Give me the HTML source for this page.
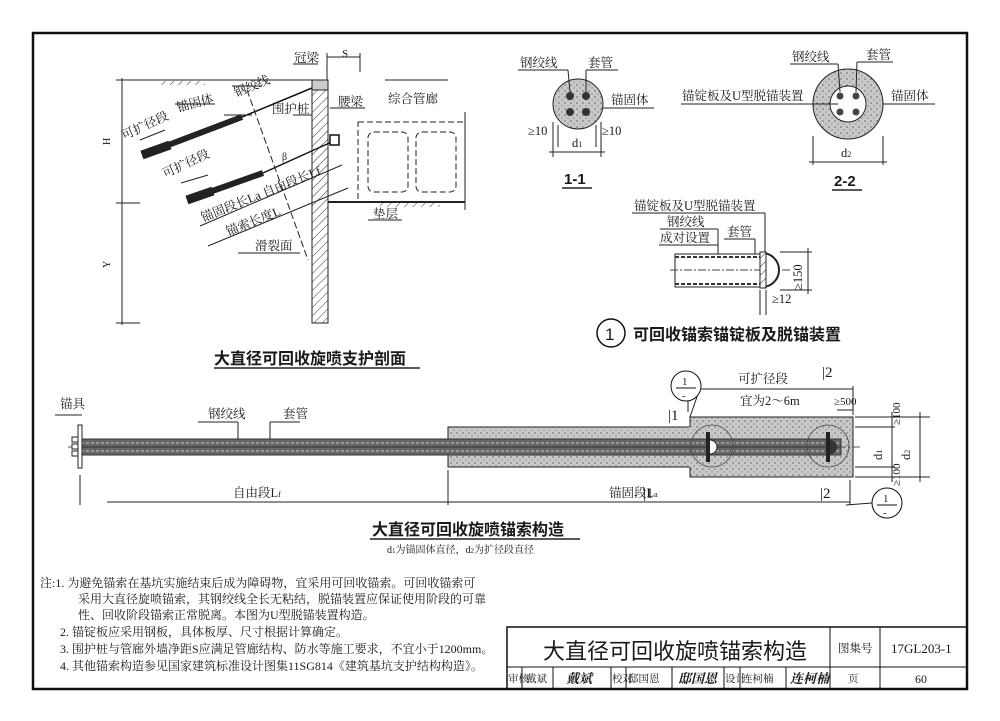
<!DOCTYPE html>
<html><head><meta charset="utf-8">
<style>
html,body{margin:0;padding:0;background:#fff;}
svg{display:block;}
text{font-family:"Liberation Serif","Noto Serif CJK SC","Noto Sans CJK SC",serif;fill:#1a1a1a;}
.b{font-family:"Liberation Sans","Noto Sans CJK SC",sans-serif;font-weight:bold;}
</style></head><body>
<svg width="1000" height="721" viewBox="0 0 1000 721" xmlns="http://www.w3.org/2000/svg">
<defs>
<pattern id="st" width="6" height="6" patternUnits="userSpaceOnUse">
<rect width="6" height="6" fill="#c8c8c8"/><circle cx="1" cy="1" r="0.8" fill="#666"/><circle cx="4" cy="4" r="0.7" fill="#888"/>
</pattern>
<pattern id="ht" width="6" height="6" patternUnits="userSpaceOnUse" patternTransform="rotate(45)">
<rect width="6" height="6" fill="#fff"/><line x1="0" y1="0" x2="0" y2="6" stroke="#333" stroke-width="1"/>
</pattern>
</defs>
<rect width="1000" height="721" fill="#fff"/>
<rect x="33" y="33" width="934" height="656" fill="none" stroke="#111" stroke-width="2.5"/>

<!-- ===== Section ===== -->
<g stroke="#222" fill="none" stroke-width="1">
<line x1="127" y1="80" x2="312" y2="80"/>
<line x1="122" y1="78" x2="122" y2="325"/>
<line x1="116" y1="80" x2="128" y2="80"/><line x1="116" y1="203" x2="140" y2="203"/><line x1="116" y1="323" x2="140" y2="323"/>
<line x1="328" y1="202" x2="465" y2="202" stroke-width="2"/>
<line x1="327" y1="57" x2="360" y2="57"/>
<line x1="327" y1="53" x2="327" y2="80"/><line x1="360" y1="53" x2="360" y2="72"/>
</g>
<rect x="312" y="80" width="16" height="243" fill="url(#ht)" stroke="#222"/>
<rect x="312" y="80" width="16" height="10" fill="#ccc" stroke="#222"/>
<rect x="160" y="81" width="45" height="4" fill="url(#ht)"/>
<rect x="380" y="203" width="60" height="4" fill="url(#ht)"/>
<!-- anchors -->
<line x1="312" y1="88" x2="242" y2="117" stroke="#111" stroke-width="1.5"/>
<line x1="242" y1="117" x2="142" y2="155" stroke="#222" stroke-width="6"/>
<line x1="170" y1="145" x2="142" y2="155" stroke="#222" stroke-width="9"/>
<line x1="336" y1="140" x2="263" y2="173" stroke="#111" stroke-width="1.5"/>
<line x1="263" y1="173" x2="187" y2="200" stroke="#222" stroke-width="6"/>
<line x1="213" y1="191" x2="187" y2="200" stroke="#222" stroke-width="9"/>
<rect x="330" y="135" width="9" height="10" fill="#fff" stroke="#111" stroke-width="1.5"/>
<line x1="247" y1="90" x2="308" y2="260" stroke="#222" stroke-dasharray="7,3" fill="none"/>
<!-- gallery -->
<g stroke="#222" fill="none" stroke-dasharray="6,3">
<rect x="358" y="122" width="107" height="80"/>
<rect x="368" y="132" width="40" height="60" rx="6"/>
<rect x="416" y="132" width="40" height="60" rx="6"/>
</g>
<line x1="465" y1="112" x2="465" y2="210" stroke="#222"/>
<g stroke="#222" fill="none">
<line x1="200" y1="226" x2="342" y2="165"/><line x1="208" y1="246" x2="348" y2="188"/>
<line x1="140" y1="140" x2="165" y2="130"/><line x1="181" y1="183" x2="208" y2="175"/>
<line x1="232" y1="86" x2="262" y2="86"/><line x1="175" y1="104" x2="215" y2="104"/>
<line x1="224" y1="115" x2="252" y2="115"/><line x1="293" y1="115" x2="312" y2="115"/>
<line x1="330" y1="108" x2="365" y2="108"/><line x1="385" y1="80" x2="448" y2="80"/>
<line x1="238" y1="253" x2="300" y2="253"/><line x1="368" y1="220" x2="402" y2="220"/>
<line x1="293" y1="64" x2="318" y2="64"/>
</g>
<g font-size="12.5">
<text x="294" y="62">冠梁</text>
<text x="342" y="57" font-size="11">S</text>
<text x="236" y="97" transform="rotate(-22 236 97)">钢绞线</text>
<text x="178" y="112" transform="rotate(-15 178 112)">锚固体</text>
<text x="124" y="140" transform="rotate(-25 124 140)">可扩径段</text>
<text x="272" y="113">围护桩</text>
<text x="338" y="106">腰梁</text>
<text x="388" y="103">综合管廊</text>
<text x="165" y="178" transform="rotate(-25 165 178)">可扩径段</text>
<text x="203" y="222" transform="rotate(-22 203 222)">锚固段长La 自由段长Lf</text>
<text x="228" y="236" transform="rotate(-22 228 236)">锚索长度L</text>
<text x="255" y="250">滑裂面</text>
<text x="373" y="218">垫层</text>
<text x="282" y="160" font-size="10">β</text>
<text x="110" y="145" font-size="10" transform="rotate(-90 110 145)">H</text>
<text x="110" y="268" font-size="10" transform="rotate(-90 110 268)">Y</text>
</g>
<text x="214" y="364" font-size="16" class="b">大直径可回收旋喷支护剖面</text>
<line x1="214" y1="368" x2="420" y2="368" stroke="#222" stroke-width="1.5"/>

<!-- ===== 1-1 ===== -->
<circle cx="578" cy="104" r="25" fill="url(#st)" stroke="#222"/>
<g fill="#333"><circle cx="570" cy="96" r="4"/><circle cx="586" cy="96" r="4"/><circle cx="570" cy="112" r="4"/><circle cx="586" cy="112" r="4"/></g>
<g stroke="#222" fill="none">
<line x1="518" y1="70" x2="568" y2="70"/><line x1="568" y1="70" x2="570" y2="92"/>
<line x1="586" y1="70" x2="618" y2="70"/><line x1="586" y1="70" x2="586" y2="92"/>
<line x1="603" y1="108" x2="654" y2="108"/>
<line x1="553" y1="122" x2="553" y2="157"/><line x1="601" y1="122" x2="601" y2="157"/>
<line x1="558" y1="125" x2="558" y2="147"/><line x1="596" y1="125" x2="596" y2="147"/>
<line x1="549" y1="152" x2="605" y2="152"/>
</g>
<g font-size="12.5">
<text x="520" y="67">钢绞线</text><text x="588" y="67">套管</text><text x="611" y="104">锚固体</text>
<text x="528" y="135">≥10</text><text x="602" y="135">≥10</text><text x="572" y="147">d<tspan font-size="8">1</tspan></text>
</g>
<text x="564" y="184" font-size="15" class="b">1-1</text>
<line x1="562" y1="188" x2="592" y2="188" stroke="#222" stroke-width="1.5"/>

<!-- ===== 2-2 ===== -->
<circle cx="848" cy="104" r="35" fill="url(#st)" stroke="#222"/>
<circle cx="848" cy="104" r="18" fill="#fff" stroke="#222"/>
<g fill="#444"><circle cx="840" cy="96" r="3.5"/><circle cx="856" cy="96" r="3.5"/><circle cx="840" cy="112" r="3.5"/><circle cx="856" cy="112" r="3.5"/></g>
<g stroke="#222" fill="none">
<line x1="790" y1="64" x2="838" y2="64"/><line x1="838" y1="64" x2="840" y2="92"/>
<line x1="857" y1="62" x2="893" y2="62"/><line x1="857" y1="62" x2="856" y2="92"/>
<line x1="681" y1="104" x2="838" y2="104"/><line x1="883" y1="104" x2="935" y2="104"/>
<line x1="813" y1="136" x2="813" y2="165"/><line x1="883" y1="136" x2="883" y2="165"/>
<line x1="809" y1="162" x2="887" y2="162"/>
</g>
<g font-size="12.5">
<text x="792" y="61">钢绞线</text><text x="866" y="59">套管</text>
<text x="682" y="100">锚锭板及U型脱锚装置</text><text x="891" y="100">锚固体</text>
<text x="841" y="157">d<tspan font-size="8">2</tspan></text>
</g>
<text x="834" y="186" font-size="15" class="b">2-2</text>
<line x1="832" y1="190" x2="862" y2="190" stroke="#222" stroke-width="1.5"/>

<!-- ===== detail 1 ===== -->
<rect x="675" y="254" width="87" height="33" fill="#fff" stroke="#222"/>
<line x1="675" y1="257" x2="762" y2="257" stroke="#333" stroke-width="2" stroke-dasharray="4,2"/>
<line x1="675" y1="284" x2="762" y2="284" stroke="#333" stroke-width="2" stroke-dasharray="4,2"/>
<line x1="670" y1="270" x2="790" y2="270" stroke="#444" stroke-dasharray="8,2,2,2"/>
<path d="M762 253 A17 17 0 0 1 762 287" fill="#fff" stroke="#222" stroke-width="2"/>
<rect x="760" y="252" width="6" height="36" fill="url(#ht)" stroke="#222"/>
<g stroke="#222" fill="none">
<line x1="632" y1="213" x2="765" y2="213"/><line x1="765" y1="213" x2="765" y2="252"/>
<line x1="660" y1="229" x2="718" y2="229"/><line x1="659" y1="245" x2="718" y2="245"/><line x1="718" y1="229" x2="718" y2="254"/>
<line x1="724" y1="239" x2="755" y2="239"/><line x1="755" y1="239" x2="755" y2="254"/>
<line x1="780" y1="252" x2="812" y2="252"/><line x1="780" y1="290" x2="812" y2="290"/><line x1="808" y1="248" x2="808" y2="294"/>
<line x1="760" y1="290" x2="760" y2="315"/><line x1="766" y1="290" x2="766" y2="315"/>
</g>
<g font-size="12.5">
<text x="634" y="210">锚锭板及U型脱锚装置</text>
<text x="667" y="226">钢绞线</text><text x="660" y="242">成对设置</text><text x="727" y="236">套管</text>
<text x="772" y="303">≥12</text>
<text x="802" y="290" transform="rotate(-90 802 290)">≥150</text>
</g>
<circle cx="611" cy="333" r="14" fill="none" stroke="#111" stroke-width="1.5"/>
<text x="605" y="340" font-size="17" class="b" style="font-weight:normal">1</text>
<text x="633" y="340" font-size="16" class="b">可回收锚索锚锭板及脱锚装置</text>

<!-- ===== Anchor construction ===== -->
<rect x="448" y="427" width="242" height="40" fill="url(#st)" stroke="#222"/>
<path d="M690 417 L853 417 L853 477 L690 477 Z" fill="url(#st)" stroke="#222"/>
<line x1="690" y1="427" x2="690" y2="467" stroke="#c8c8c8" stroke-width="2"/>
<line x1="68" y1="447" x2="860" y2="447" stroke="#555" stroke-dasharray="10,2,2,2"/>
<rect x="81" y="439" width="760" height="16" fill="#666" stroke="#333"/>
<line x1="81" y1="443" x2="841" y2="443" stroke="#ccc" stroke-dasharray="3,2"/>
<line x1="81" y1="451" x2="841" y2="451" stroke="#ccc" stroke-dasharray="3,2"/>
<line x1="81" y1="447" x2="841" y2="447" stroke="#333"/>
<rect x="78" y="425" width="4" height="43" fill="#fff" stroke="#222"/>
<g fill="#fff" stroke="#222"><rect x="72" y="437" width="6" height="5"/><rect x="72" y="444" width="6" height="5"/><rect x="72" y="451" width="6" height="5"/></g>
<rect x="706" y="432" width="4" height="30" fill="#222"/><path d="M710 440 A7 7 0 0 1 710 454" fill="#fff" stroke="#222"/>
<rect x="826" y="432" width="4" height="30" fill="#222"/><path d="M830 440 A7 7 0 0 1 830 454" fill="#333"/>
<circle cx="712" cy="446" r="21" fill="none" stroke="#444" stroke-width="0.8"/>
<circle cx="828" cy="446" r="21" fill="none" stroke="#444" stroke-width="0.8"/>
<g stroke="#222" fill="none">
<line x1="80" y1="475" x2="80" y2="505"/><line x1="448" y1="470" x2="448" y2="505"/>
<line x1="107" y1="502" x2="850" y2="502"/><line x1="850" y1="480" x2="850" y2="505"/>
<line x1="688" y1="388" x2="688" y2="412"/><line x1="690" y1="389" x2="853" y2="389"/><line x1="853" y1="386" x2="853" y2="415"/>
<line x1="837" y1="410" x2="853" y2="410"/>
<line x1="55" y1="415" x2="82" y2="415"/><line x1="198" y1="422" x2="238" y2="422"/><line x1="270" y1="422" x2="300" y2="422"/>
<line x1="238" y1="422" x2="238" y2="439"/><line x1="270" y1="422" x2="270" y2="439"/>
<line x1="700" y1="388" x2="690" y2="417"/><line x1="846" y1="505" x2="872" y2="503"/>
<line x1="855" y1="417" x2="930" y2="417"/><line x1="855" y1="427" x2="895" y2="427"/>
<line x1="855" y1="467" x2="895" y2="467"/><line x1="855" y1="477" x2="930" y2="477"/>
<line x1="892" y1="412" x2="892" y2="482"/><line x1="920" y1="412" x2="920" y2="482"/>
</g>
<circle cx="686" cy="386" r="15" fill="#fff" stroke="#111"/>
<line x1="676" y1="388" x2="696" y2="388" stroke="#111"/>
<text x="682" y="385" font-size="11">1</text><text x="682" y="399" font-size="11">-</text>
<circle cx="887" cy="503" r="15" fill="#fff" stroke="#111"/>
<line x1="877" y1="505" x2="897" y2="505" stroke="#111"/>
<text x="883" y="502" font-size="11">1</text><text x="883" y="516" font-size="11">-</text>
<g font-size="12.5">
<text x="60" y="408">锚具</text><text x="208" y="418">钢绞线</text><text x="283" y="418">套管</text>
<text x="738" y="383">可扩径段</text><text x="740" y="405">宜为2～6m</text>
<text x="834" y="405" font-size="11">≥500</text>
<text x="233" y="497">自由段L<tspan font-size="8">f</tspan></text>
<text x="609" y="497">锚固段L<tspan font-size="8">a</tspan></text>
<text x="882" y="460" transform="rotate(-90 882 460)">d<tspan font-size="8">1</tspan></text>
<text x="910" y="460" transform="rotate(-90 910 460)">d<tspan font-size="8">2</tspan></text>
<text x="900" y="425" font-size="11" transform="rotate(-90 900 425)">≥100</text>
<text x="900" y="486" font-size="11" transform="rotate(-90 900 486)">≥100</text>
</g>
<g font-size="15" class="b" style="font-weight:normal">
<text x="822" y="377">|2</text><text x="668" y="420">|1</text><text x="643" y="498">|1</text><text x="820" y="498">|2</text>
</g>
<text x="372" y="535" font-size="16" class="b">大直径可回收旋喷锚索构造</text>
<line x1="370" y1="539" x2="580" y2="539" stroke="#222" stroke-width="1.5"/>
<text x="387" y="553" font-size="10">d<tspan font-size="7">1</tspan>为锚固体直径，d<tspan font-size="7">2</tspan>为扩径段直径</text>

<!-- ===== Notes ===== -->
<g font-size="12">
<text x="40" y="587">注:1. 为避免锚索在基坑实施结束后成为障碍物，宜采用可回收锚索。可回收锚索可</text>
<text x="78" y="603">采用大直径旋喷锚索，其钢绞线全长无粘结，脱锚装置应保证使用阶段的可靠</text>
<text x="78" y="619">性、回收阶段锚索正常脱离。本图为U型脱锚装置构造。</text>
<text x="60" y="636">2. 锚锭板应采用钢板，具体板厚、尺寸根据计算确定。</text>
<text x="60" y="653">3. 围护桩与管廊外墙净距S应满足管廊结构、防水等施工要求，不宜小于1200mm。</text>
<text x="60" y="670">4. 其他锚索构造参见国家建筑标准设计图集11SG814《建筑基坑支护结构构造》。</text>
</g>

<!-- ===== Title block ===== -->
<g stroke="#111" fill="none">
<rect x="507" y="627" width="460" height="62" stroke-width="1.5"/>
<line x1="507" y1="667" x2="967" y2="667"/>
<line x1="830" y1="627" x2="830" y2="689"/><line x1="880" y1="627" x2="880" y2="689"/>
<line x1="522" y1="667" x2="522" y2="689"/><line x1="553" y1="667" x2="553" y2="689"/>
<line x1="611" y1="667" x2="611" y2="689"/><line x1="626" y1="667" x2="626" y2="689"/>
<line x1="672" y1="667" x2="672" y2="689"/><line x1="724" y1="667" x2="724" y2="689"/>
<line x1="740" y1="667" x2="740" y2="689"/><line x1="786" y1="667" x2="786" y2="689"/>
</g>
<text x="543" y="659" font-size="22" class="b" style="font-weight:normal">大直径可回收旋喷锚索构造</text>
<text x="838" y="652" font-size="11.5">图集号</text>
<text x="891" y="653" font-size="13">17GL203-1</text>
<g font-size="10.5">
<text x="508" y="682">审核</text><text x="526" y="682">戴斌</text>
<text x="566" y="683" font-size="13" font-weight="bold" font-style="italic">戴斌</text>
<text x="612" y="682">校对</text><text x="628" y="682">邸国恩</text>
<text x="678" y="683" font-size="13" font-weight="bold" font-style="italic">邸国恩</text>
<text x="725" y="682">设计</text><text x="742" y="682">连柯楠</text>
<text x="790" y="683" font-size="13" font-weight="bold" font-style="italic">连柯楠</text>
<text x="848" y="682">页</text>
<text x="915" y="683" font-size="12">60</text>
</g>
</svg>
</body></html>
